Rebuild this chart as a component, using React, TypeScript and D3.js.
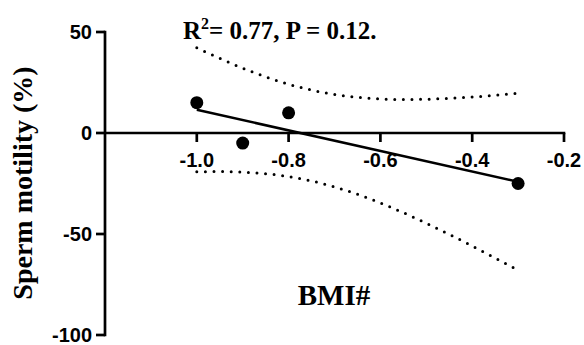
import * as d3 from 'd3';

// BMI# change vs sperm motility change
const bmi = [-1.0, -0.9, -0.8, -0.3];
const motility = [15, -5, 10, -25];

const xTicks = [-1.0, -0.8, -0.6, -0.4, -0.2];
const yTicks = [50, 0, -50, -100];

// two-tailed t for 95% CI, df = n - 2 = 2
const T_CRIT = 4.303;

const W = 584;
const H = 345;

function fitLine(xs: number[], ys: number[]) {
  const n = xs.length;
  const mx = d3.mean(xs) as number;
  const my = d3.mean(ys) as number;
  const sxx = d3.sum(xs, (x) => (x - mx) ** 2);
  const sxy = d3.sum(xs.map((x, i) => (x - mx) * (ys[i] - my)));
  const slope = sxy / sxx;
  const icpt = my - slope * mx;
  const sse = d3.sum(xs.map((x, i) => (ys[i] - (icpt + slope * x)) ** 2));
  const s = Math.sqrt(sse / (n - 2));
  const predict = (x: number) => icpt + slope * x;
  const half = (x: number) => T_CRIT * s * Math.sqrt(1 / n + (x - mx) ** 2 / sxx);
  return { predict, half };
}

export default function App() {
  const x = d3.scaleLinear().domain([-1.2, -0.2]).range([105, 564]);
  const y = d3.scaleLinear().domain([-100, 50]).range([335, 32]);
  const y0 = y(0);

  const { predict, half } = fitLine(bmi, motility);
  const [xmin, xmax] = d3.extent(bmi) as [number, number];
  const grid = d3.range(0, 61).map((i) => xmin + ((xmax - xmin) * i) / 60);

  const line = d3.line<number>().x((d) => x(d)).y((d) => y(predict(d)));
  const upper = d3.line<number>().curve(d3.curveMonotoneX).x((d) => x(d)).y((d) => y(predict(d) + half(d)));
  const lower = d3.line<number>().curve(d3.curveMonotoneX).x((d) => x(d)).y((d) => y(predict(d) - half(d)));

  const sans = "'Liberation Sans', Arial, sans-serif";
  const serif = "'Liberation Serif', 'Times New Roman', serif";

  return (
    <svg width={W} height={H} style={{ position: 'absolute', left: 0, top: 0, background: '#fff' }}>
      {/* confidence band */}
      <path d={upper(grid) || ''} fill="none" stroke="#000" strokeWidth={3} strokeLinecap="round" strokeDasharray="0 8.6" />
      <path d={lower(grid) || ''} fill="none" stroke="#000" strokeWidth={3} strokeLinecap="round" strokeDasharray="0 8.6" />

      {/* y axis */}
      <line x1={x(-1.2)} x2={x(-1.2)} y1={y(50) - 1.3} y2={y(-100) + 1.3} stroke="#000" strokeWidth={2.7} />
      {yTicks.map((t) => (
        <g key={t}>
          <line x1={x(-1.2) - 9} x2={x(-1.2)} y1={y(t)} y2={y(t)} stroke="#000" strokeWidth={2.7} />
          <text x={x(-1.2) - 13} y={y(t)} dy="0.36em" textAnchor="end" fontFamily={sans} fontWeight="bold" fontSize={20}>
            {t}
          </text>
        </g>
      ))}

      {/* x axis */}
      <line x1={x(-1.2)} x2={x(-0.2) + 1.3} y1={y0} y2={y0} stroke="#000" strokeWidth={2.7} />
      {xTicks.map((t) => (
        <g key={t}>
          <line x1={x(t)} x2={x(t)} y1={y0} y2={y0 + 9} stroke="#000" strokeWidth={2.7} />
          <text x={x(t)} y={y0 + 34} textAnchor="middle" fontFamily={sans} fontWeight="bold" fontSize={20}>
            {t.toFixed(1)}
          </text>
        </g>
      ))}

      {/* regression line */}
      <path d={line([xmin, xmax]) || ''} fill="none" stroke="#000" strokeWidth={2.5} />

      {bmi.map((b, i) => (
        <circle key={i} cx={x(b)} cy={y(motility[i])} r={6.5} fill="#000" />
      ))}

      <text x={183} y={39} fontFamily={serif} fontWeight="bold" fontSize={25}>
        R<tspan fontSize={16} dy={-10}>2</tspan>
        <tspan dy={10}>= 0.77, P = 0.12.</tspan>
      </text>

      <text x={334} y={305} textAnchor="middle" fontFamily={serif} fontWeight="bold" fontSize={29}>
        BMI#
      </text>

      <text transform="translate(32,183) rotate(-90)" textAnchor="middle" fontFamily={serif} fontWeight="bold" fontSize={28}>
        Sperm motility (%)
      </text>
    </svg>
  );
}
